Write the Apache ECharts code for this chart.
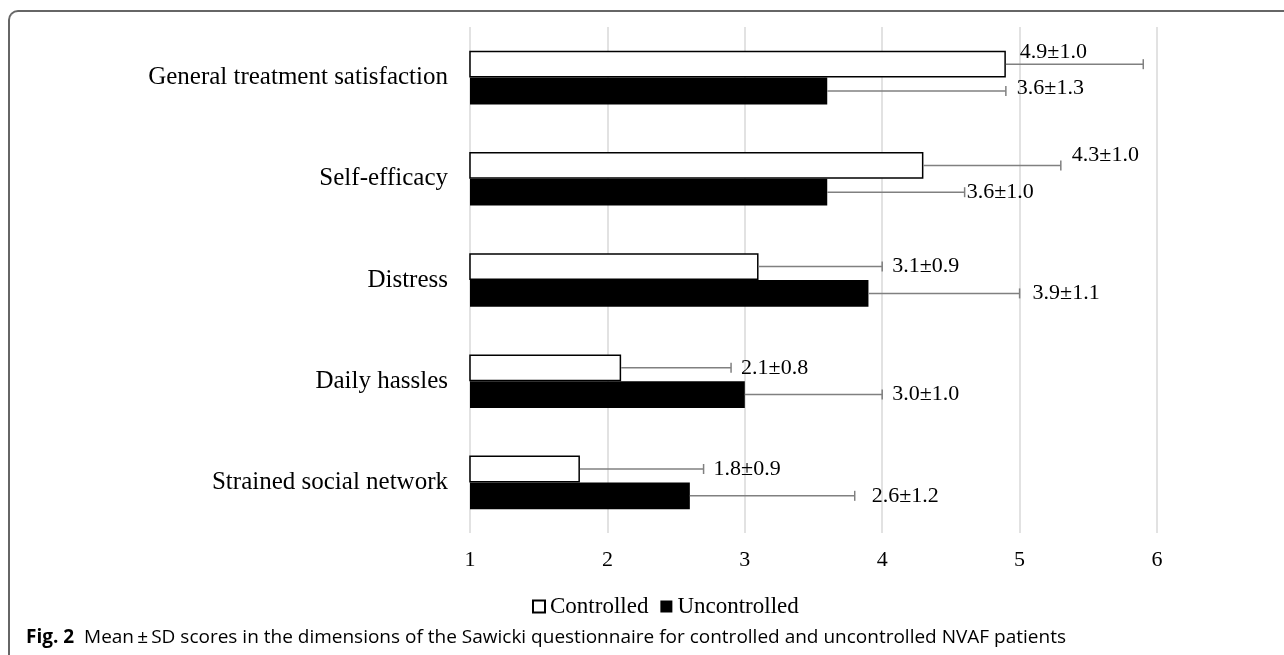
<!DOCTYPE html>
<html lang="en">
  <head>
    <meta charset="UTF-8" />
    <title>Sawicki questionnaire scores</title>
    <style>
      * {
        margin: 0;
        padding: 0;
      }
      body {
        background: #fff;
      }
      /* thin frame round the figure: top and left edges only */
      #frame {
        position: absolute;
        left: 8px;
        top: 10px;
        width: 1320px;
        height: 700px;
        border-top: 2px solid #666;
        border-left: 2px solid #666;
        border-top-left-radius: 10px;
      }
      #main {
        position: absolute;
        left: 0;
        top: 0;
        width: 1284px;
        height: 655px;
      }
    </style>
  </head>
  <body>
    <div id="frame"></div>
    <div id="main"></div>
    <script src="https://cdn.jsdelivr.net/npm/echarts/dist/echarts.min.js"></script>
    <script>
      // data
      const categories = [
        "General treatment satisfaction",
        "Self-efficacy",
        "Distress",
        "Daily hassles",
        "Strained social network",
      ];
      const controlledMean = [4.9, 4.3, 3.1, 2.1, 1.8];
      const controlledSD = [1.0, 1.0, 0.9, 0.8, 0.9];
      const uncontrolledMean = [3.6, 3.6, 3.9, 3.0, 2.6];
      const uncontrolledSD = [1.3, 1.0, 1.1, 1.0, 1.2];
      const xTicks = [1, 2, 3, 4, 5, 6];

      const serif = "'Liberation Serif', 'Times New Roman', serif";
      const catGap = 0.47;

      // hand-placed labels, as in the source figure: [anchor, dx, dy]
      // anchor "bar" = end of the bar, "cap" = end of the whisker
      const labelPlace = {
        "0-0": ["bar", 14, -12],
        "0-1": ["cap", 11, -10],
        "1-0": ["cap", 11, -3],
        "1-1": ["cap", 2, 0],
        "1-2": ["cap", 13, 0],
        "1-4": ["cap", 17, 0],
      };

      function errData(means, sds) {
        return means.map(function (m, i) {
          return [i, m, sds[i]];
        });
      }

      // whisker + cap + label for one group
      function makeErrRender(group) {
        return function (params, api) {
          const cat = api.value(0);
          const mean = api.value(1);
          const sd = api.value(2);
          const band = api.size([0, 1])[1];
          const barW = (band * (1 - catGap)) / 2;
          const start = api.coord([mean, cat]);
          const end = api.coord([mean + sd, cat]);
          const y = start[1] + (group === 0 ? -barW / 2 : barW / 2);
          const place = labelPlace[group + "-" + cat] || ["cap", 10, 0];
          const tx = (place[0] === "bar" ? start[0] : end[0]) + place[1];
          const ty = y + place[2];
          const lineStyle = { stroke: "#808080", lineWidth: 1.5 };
          return {
            type: "group",
            children: [
              {
                type: "line",
                shape: { x1: start[0], y1: y, x2: end[0], y2: y },
                style: lineStyle,
              },
              {
                type: "line",
                shape: { x1: end[0], y1: y - 5, x2: end[0], y2: y + 5 },
                style: lineStyle,
              },
              {
                type: "text",
                x: tx,
                y: ty,
                style: {
                  text: mean.toFixed(1) + "\u00b1" + sd.toFixed(1),
                  fontFamily: serif,
                  fontSize: 22,
                  fill: "#000",
                  verticalAlign: "middle",
                  align: "left",
                },
              },
            ],
          };
        };
      }

      function draw() {
        let myEcharts = echarts.init(document.getElementById("main"));
        let option = {
          animation: false,
          grid: {
            left: 470,
            right: 127,
            top: 27,
            bottom: 122,
          },
          legend: {
            data: ["Controlled", "Uncontrolled"],
            left: 527,
            top: 590,
            icon: "rect",
            itemWidth: 12,
            itemHeight: 12,
            itemGap: 12,
            textStyle: { fontFamily: serif, fontSize: 23, color: "#000" },
          },
          xAxis: {
            type: "value",
            min: xTicks[0],
            max: xTicks[xTicks.length - 1],
            interval: 1,
            axisLine: { show: false },
            axisTick: { show: false },
            axisLabel: {
              margin: 16,
              fontFamily: serif,
              fontSize: 22,
              color: "#000",
            },
            splitLine: { lineStyle: { color: "#d9d9d9", width: 1.5 } },
          },
          yAxis: {
            type: "category",
            data: categories,
            inverse: true,
            axisLine: { show: false },
            axisTick: { show: false },
            axisLabel: {
              margin: 22,
              fontFamily: serif,
              fontSize: 25,
              color: "#000",
            },
          },
          series: [
            {
              name: "Controlled",
              type: "bar",
              data: controlledMean,
              barGap: "0%",
              barCategoryGap: catGap * 100 + "%",
              itemStyle: { color: "#fff", borderColor: "#000", borderWidth: 1.5 },
            },
            {
              name: "Uncontrolled",
              type: "bar",
              data: uncontrolledMean,
              barGap: "0%",
              barCategoryGap: catGap * 100 + "%",
              itemStyle: { color: "#000" },
            },
            {
              name: "errC",
              type: "custom",
              renderItem: makeErrRender(0),
              encode: { x: 1, y: 0 },
              data: errData(controlledMean, controlledSD),
              z: 5,
            },
            {
              name: "errU",
              type: "custom",
              renderItem: makeErrRender(1),
              encode: { x: 1, y: 0 },
              data: errData(uncontrolledMean, uncontrolledSD),
              z: 5,
            },
          ],
          graphic: [
            {
              type: "text",
              left: 26,
              top: 628,
              style: {
                text: "{b|Fig. 2}  Mean\u2009\u00b1\u2009SD scores in the dimensions of the Sawicki questionnaire for controlled and uncontrolled NVAF patients",
                fontFamily: "'Open Sans', sans-serif",
                fontSize: 19,
                fill: "#000",
                rich: {
                  b: {
                    fontFamily: "'Open Sans', sans-serif",
                    fontSize: 19,
                    fontWeight: "bold",
                  },
                },
              },
            },
          ],
        };
        myEcharts.setOption(option);
      }
      draw();
    </script>
  </body>
</html>
